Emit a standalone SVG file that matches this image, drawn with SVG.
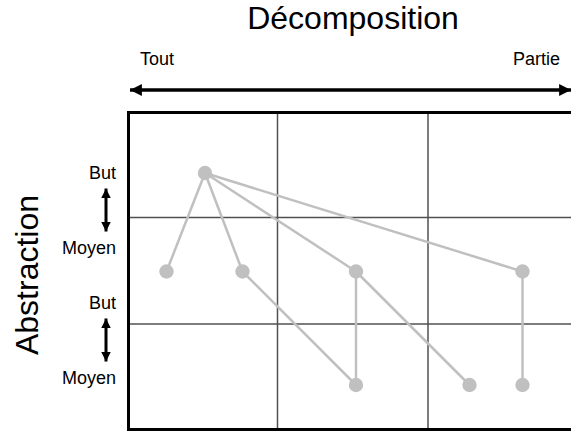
<svg xmlns="http://www.w3.org/2000/svg" width="571" height="431" viewBox="0 0 571 431">
<style>
text{font-family:"Liberation Sans",Arial,sans-serif;fill:#000}
.big{font-size:32px}
.lbl{font-size:18px}
.grid{stroke:#505050;stroke-width:1.5;fill:none}
.edge{stroke:#c0c0c0;stroke-width:2.5;fill:none}
.node{fill:#c0c0c0}
</style>
<defs>
<marker id="ah" viewBox="0 0 10 10" refX="10" refY="5" markerWidth="4.2" markerHeight="3.4" orient="auto-start-reverse" markerUnits="strokeWidth">
<path d="M0,0 L10,5 L0,10 z" fill="#000"/>
</marker>
<marker id="av" viewBox="0 0 10 10" refX="10" refY="5" markerWidth="3.3" markerHeight="4.3" orient="auto-start-reverse" markerUnits="strokeWidth">
<path d="M0,0 L10,5 L0,10 z" fill="#000"/>
</marker>
</defs>
<rect width="571" height="431" fill="#fff"/>
<g id="titles">
<text class="big" x="353" y="29" text-anchor="middle">Décomposition</text>
<text class="big" transform="translate(37.5,275) rotate(-90)" text-anchor="middle">Abstraction</text>
<text class="lbl" x="140" y="65">Tout</text>
<text class="lbl" x="560" y="65" text-anchor="end">Partie</text>
<text class="lbl" x="116" y="179" text-anchor="end">But</text>
<text class="lbl" x="116" y="254" text-anchor="end">Moyen</text>
<text class="lbl" x="116" y="309" text-anchor="end">But</text>
<text class="lbl" x="116" y="384" text-anchor="end">Moyen</text>
</g>
<g id="axes">
<line x1="130" y1="90" x2="571" y2="90" stroke="#000" stroke-width="3.5" marker-start="url(#ah)" marker-end="url(#ah)"/>
<line x1="106" y1="188.5" x2="106" y2="231.5" stroke="#000" stroke-width="3" marker-start="url(#av)" marker-end="url(#av)"/>
<line x1="106" y1="318.5" x2="106" y2="361.5" stroke="#000" stroke-width="3" marker-start="url(#av)" marker-end="url(#av)"/>
</g>
<g id="grid">
<line class="grid" x1="277.5" y1="113" x2="277.5" y2="430"/>
<line class="grid" x1="428" y1="113" x2="428" y2="430"/>
<line class="grid" x1="129" y1="217.5" x2="571" y2="217.5"/>
<line class="grid" x1="129" y1="324" x2="571" y2="324"/>
<path d="M571,112.5 H128.5 V429.5 H571" fill="none" stroke="#000" stroke-width="3"/>
</g>
<g id="connectors">
<line class="edge" x1="205" y1="173" x2="166.5" y2="271.5"/>
<line class="edge" x1="205" y1="173" x2="242.5" y2="271.5"/>
<line class="edge" x1="205" y1="173" x2="356" y2="271.5"/>
<line class="edge" x1="205" y1="173" x2="522.5" y2="271.5"/>
<line class="edge" x1="242.5" y1="271.5" x2="356" y2="385"/>
<line class="edge" x1="356" y1="271.5" x2="356" y2="385"/>
<line class="edge" x1="356" y1="271.5" x2="469.5" y2="385"/>
<line class="edge" x1="522.5" y1="271.5" x2="522.5" y2="385"/>
</g>
<g id="n0"><circle class="node" cx="205" cy="173" r="7.2"/></g>
<g id="n1"><circle class="node" cx="166.5" cy="271.5" r="7.2"/></g>
<g id="n2"><circle class="node" cx="242.5" cy="271.5" r="7.2"/></g>
<g id="n3"><circle class="node" cx="356" cy="271.5" r="7.2"/></g>
<g id="n4"><circle class="node" cx="522.5" cy="271.5" r="7.2"/></g>
<g id="n5"><circle class="node" cx="356" cy="385" r="7.2"/></g>
<g id="n6"><circle class="node" cx="469.5" cy="385" r="7.2"/></g>
<g id="n7"><circle class="node" cx="522.5" cy="385" r="7.2"/></g>
</svg>
